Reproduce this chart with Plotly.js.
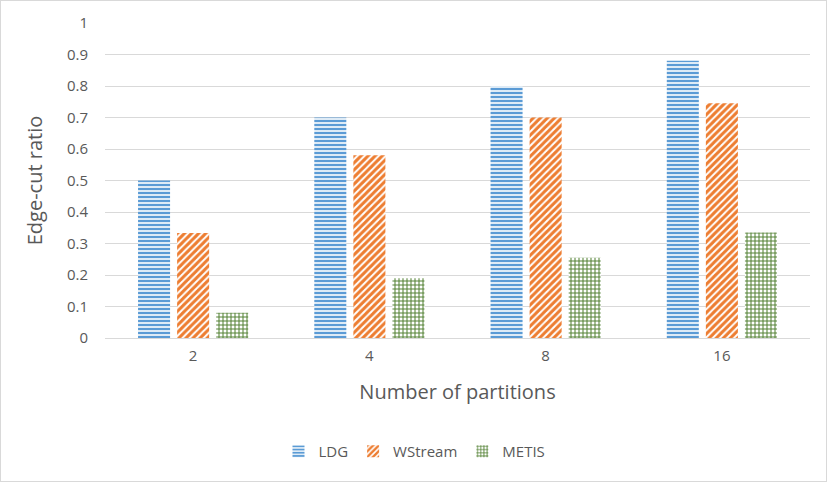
<!DOCTYPE html>
<html>
<head>
<meta charset="utf-8">
<script src="https://cdn.plot.ly/plotly-3.0.1.min.js"></script>
<style>
  html, body { margin: 0; padding: 0; background: #fff; }
  #chart { width: 825px; height: 480px; border: 1px solid #d9d9d9; }
</style>
</head>
<body>
<div id="chart"></div>
<script>
// Partition counts along the x axis
const partitions = ['2', '4', '8', '16'];

// Edge-cut ratio for each partitioner
const ldg = [0.5, 0.7, 0.8, 0.88];
const wstream = [0.333, 0.58, 0.70, 0.745];
const metis = [0.08, 0.19, 0.255, 0.335];

const yTicks = [0, 0.1, 0.2, 0.3, 0.4, 0.5, 0.6, 0.7, 0.8, 0.9, 1];

function series(name, values, color, shape, size, solidity) {
  return {
    type: 'bar',
    name: name,
    x: partitions,
    y: values,
    marker: {
      color: '#ffffff',
      line: { width: 0 },
      pattern: {
        shape: shape, fgcolor: color, bgcolor: '#ffffff', fgopacity: 1,
        size: size, solidity: solidity, fillmode: 'replace'
      }
    },
    hoverinfo: 'skip'
  };
}

const data = [
  series('LDG', ldg, '#5b9bd5', '-', 4, 0.6),
  series('WStream', wstream, '#ed7d31', '/', 5, 0.6),
  series('METIS', metis, '#548235', '+', 4, 0.45)
];

const layout = {
  width: 825,
  height: 480,
  margin: { l: 104, r: 16, t: 22, b: 143 },
  paper_bgcolor: '#ffffff',
  plot_bgcolor: '#ffffff',
  font: { family: '"Open Sans", sans-serif', color: '#595959', size: 15 },
  barmode: 'group',
  bargap: 0.335,
  bargroupgap: 0.18,
  xaxis: {
    type: 'category',
    showgrid: false,
    showline: true,
    linecolor: '#d9d9d9',
    linewidth: 1,
    ticks: '',
    ticklabelstandoff: 4,
    tickfont: { size: 15, color: '#595959' },
    title: { text: 'Number of partitions', font: { size: 20, color: '#595959' }, standoff: 20 }
  },
  yaxis: {
    range: [0, 1],
    tickvals: yTicks,
    ticktext: yTicks.map(v => String(v)),
    showgrid: true,
    gridcolor: '#d9d9d9',
    gridwidth: 1,
    zeroline: false,
    showline: false,
    ticks: '',
    ticklabelstandoff: 16,
    tickfont: { size: 15, color: '#595959' },
    title: { text: 'Edge-cut ratio', font: { size: 20, color: '#595959' }, standoff: 18 }
  },
  showlegend: true,
  legend: {
    orientation: 'h',
    x: 0.439,
    xanchor: 'center',
    y: -0.36,
    yanchor: 'middle',
    font: { size: 15, color: '#595959' },
    itemwidth: 30
  }
};

Plotly.newPlot('chart', data, layout, { displayModeBar: false, staticPlot: true });
</script>
</body>
</html>
